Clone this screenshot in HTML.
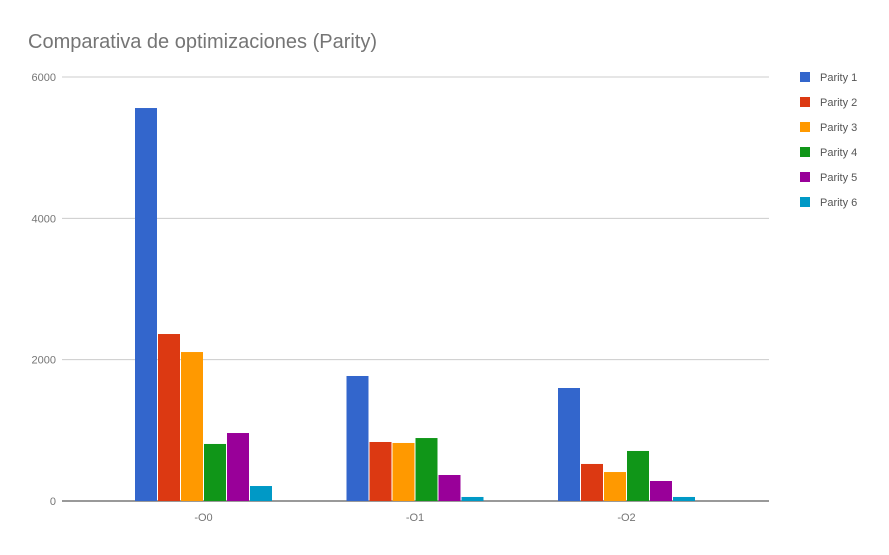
<!DOCTYPE html>
<html><head><meta charset="utf-8"><style>
body{margin:0;background:#fff;font-family:"Liberation Sans",Arial,sans-serif}
</style></head><body>
<svg id="c" width="889" height="550" xmlns="http://www.w3.org/2000/svg">
<rect width="889" height="550" fill="#fff"/>
<text x="28" y="48" font-size="20" fill="#757575">Comparativa de optimizaciones (Parity)</text>
<g id="grid"></g><g id="bars"></g><g id="legend"></g>
</svg>
<script>
const categories=["-O0","-O1","-O2"];
const seriesNames=["Parity 1","Parity 2","Parity 3","Parity 4","Parity 5","Parity 6"];
const p1=[5561,1769,1599];
const p2=[2363,835,524];
const p3=[2108,821,410];
const p4=[807,891,708];
const p5=[962,368,283];
const p6=[212,57,57];
const yTicks=[0,2000,4000,6000];
const colors=["#3366cc","#dc3912","#ff9900","#109618","#990099","#0099c6"];
const series=[p1,p2,p3,p4,p5,p6];
const NS="http://www.w3.org/2000/svg";
const y0=501,y1=77,yMax=6000;
const y=v=>y0-(v/yMax)*(y0-y1);
const xc=i=>203.5+i*211.5;
const bw=22,step=23;
const grid=document.getElementById('grid');
yTicks.forEach(t=>{
 const l=document.createElementNS(NS,'line');
 
 
 l.setAttribute('x1',62);l.setAttribute('x2',769);l.setAttribute('y1',y(t));l.setAttribute('y2',y(t));
 l.setAttribute('stroke',t===0?'#333':'#ccc');l.setAttribute('stroke-width',1);
 grid.appendChild(l);
 const tx=document.createElementNS(NS,'text');
 
 
 tx.setAttribute('x',56);tx.setAttribute('y',y(t)+4);tx.setAttribute('text-anchor','end');
 tx.setAttribute('font-size',11);tx.setAttribute('fill','#757575');tx.textContent=t;
 grid.appendChild(tx);
});
const bars=document.getElementById('bars');
categories.forEach((c,i)=>{
 series.forEach((s,j)=>{
  const r=document.createElementNS(NS,'rect');
  
  
  const x=xc(i)-3*step+j*step+0.5;
  r.setAttribute('x',x);r.setAttribute('y',y(s[i]));r.setAttribute('width',bw);
  r.setAttribute('height',y0-y(s[i]));r.setAttribute('fill',colors[j]);
  bars.appendChild(r);
 });
 const tx=document.createElementNS(NS,'text');
 
 
 tx.setAttribute('x',xc(i));tx.setAttribute('y',521);tx.setAttribute('text-anchor','middle');
 tx.setAttribute('font-size',11);tx.setAttribute('fill','#757575');tx.textContent=c;
 bars.appendChild(tx);
});
const lg=document.getElementById('legend');
seriesNames.forEach((n,j)=>{
 const r=document.createElementNS(NS,'rect');
 
 
 r.setAttribute('x',800);r.setAttribute('y',72+j*25);r.setAttribute('width',10);r.setAttribute('height',10);
 r.setAttribute('fill',colors[j]);lg.appendChild(r);
 const t=document.createElementNS(NS,'text');
 
 
 t.setAttribute('x',820);t.setAttribute('y',81+j*25);t.setAttribute('font-size',11);
 t.setAttribute('fill','#555');t.textContent=n;lg.appendChild(t);
});
</script>
</body></html>
